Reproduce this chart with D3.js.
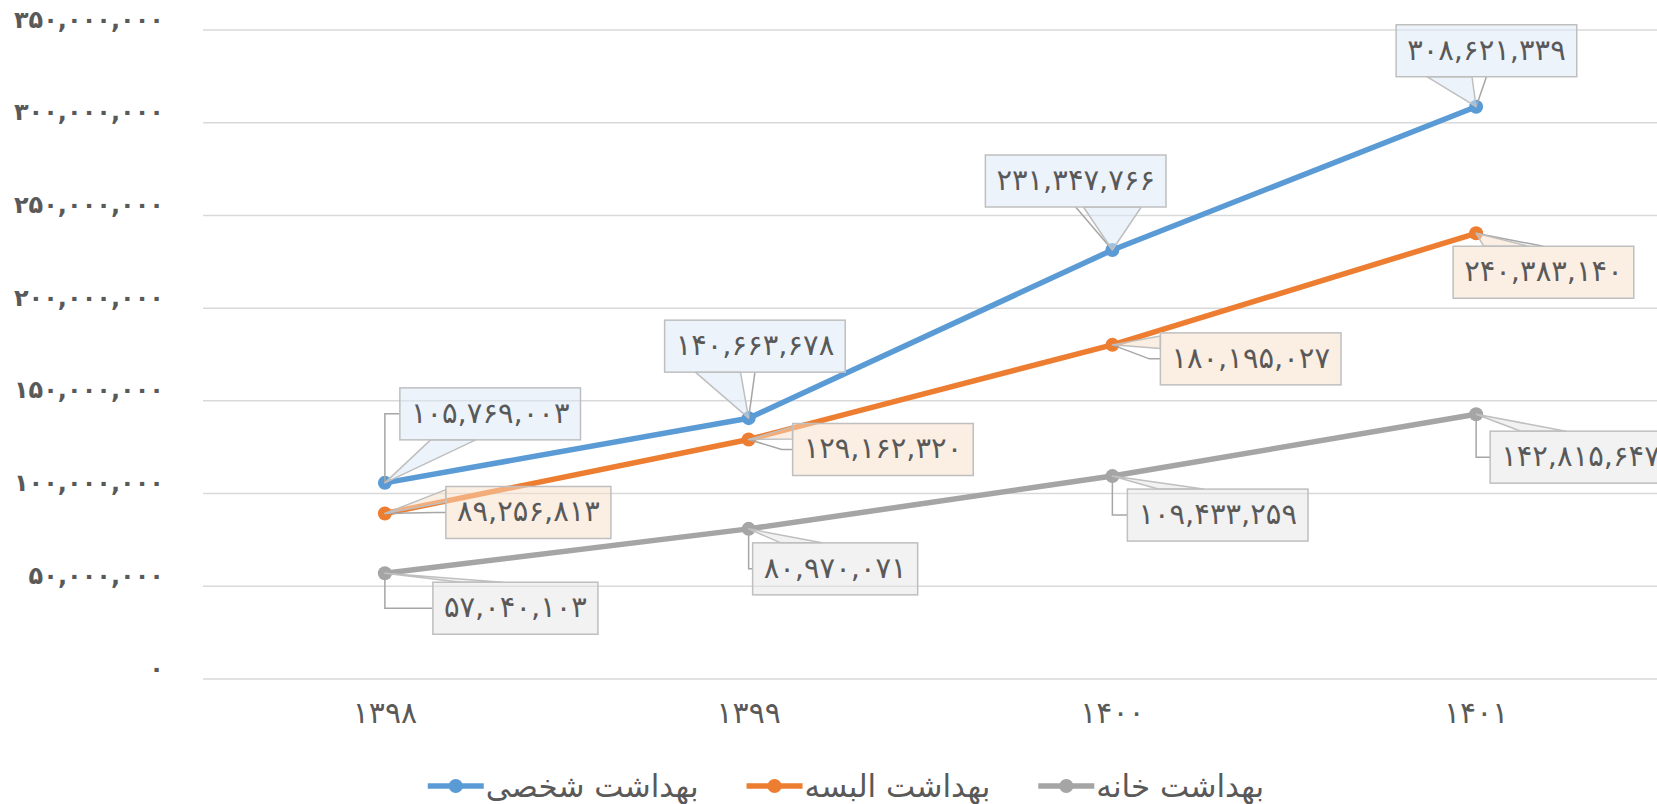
<!DOCTYPE html>
<html>
<head>
<meta charset="utf-8">
<script src="https://cdn.jsdelivr.net/npm/d3@7"></script>
<style>
  html, body { margin: 0; padding: 0; background: #fff; overflow: hidden; }
  svg { display: block; font-family: "DejaVu Sans", sans-serif; }
</style>
</head>
<body>
<div id="chart"></div>
<script>
// categories (years) and the three series
var years = ['۱۳۹۸', '۱۳۹۹', '۱۴۰۰', '۱۴۰۱'];
var seriesNames = ['بهداشت شخصی', 'بهداشت البسه', 'بهداشت خانه'];
var personal = [105769003, 140663678, 231347766, 308621339];
var clothing = [89256813, 129162320, 180195027, 240383140];
var house = [57040103, 80970071, 109433259, 142815647];
var yTicks = [0, 50000000, 100000000, 150000000, 200000000, 250000000, 300000000, 350000000];

// where each callout box sits relative to its point (left, top)
var labelOffsets = [
    [[15, -95], [-84, -98], [-127, -95], [-80, -82]],
    [[61, -27], [44, -16], [48, -12], [-23, 13]],
    [[48, 9], [4, 14], [15, 13], [14, 17]]
];

var colors = ['#5B9BD5', '#ED7D31', '#A5A5A5'];
var boxFill = ['#DCE8F6', '#F7DDC6', '#E6E6E6'];

var width = 1657, height = 804;
var values = [personal, clothing, house];

function fa(s) {
    return s.replace(/\d/g, function (d) { return '۰۱۲۳۴۵۶۷۸۹'[+d]; });
}
var fmt = d3.format(',');

var svg = d3.select('#chart').append('svg')
    .attr('width', width)
    .attr('height', height);

var x = d3.scaleBand()
    .domain(years)
    .range([203, 1658]);

var y = d3.scaleLinear()
    .domain([0, 350000000])
    .range([679, 30]);

function cx(i) { return x(years[i]) + x.bandwidth() / 2; }

// grid
svg.append('g').selectAll('line')
    .data(yTicks)
    .enter().append('line')
    .attr('x1', 203).attr('x2', width)
    .attr('y1', function (d) { return y(d); })
    .attr('y2', function (d) { return y(d); })
    .attr('stroke', '#D9D9D9')
    .attr('stroke-width', 1.5);

// y axis
var yaxis = d3.axisLeft(y)
    .tickValues(yTicks)
    .tickSize(0)
    .tickPadding(0)
    .tickFormat(function (d) { return fa(fmt(d)); });

var gy = svg.append('g')
    .attr('transform', 'translate(164,0)')
    .call(yaxis);
gy.select('.domain').remove();
gy.selectAll('text')
    .attr('font-size', 24)
    .attr('font-weight', 'bold')
    .attr('fill', '#595959')
    .attr('dy', '-0.12em')
    .style('font-family', '"DejaVu Sans", sans-serif');

// x axis
var xaxis = d3.axisBottom(x).tickSize(0).tickPadding(0);
var gx = svg.append('g')
    .attr('transform', 'translate(0,702)')
    .call(xaxis);
gx.select('.domain').remove();
gx.selectAll('text')
    .attr('font-size', 30)
    .attr('fill', '#595959')
    .style('font-family', '"DejaVu Sans", sans-serif');

// lines and markers
var line = d3.line()
    .x(function (d, i) { return cx(i); })
    .y(function (d) { return y(d); });

values.forEach(function (vals, s) {
    svg.append('path')
        .datum(vals)
        .attr('d', line)
        .attr('fill', 'none')
        .attr('stroke', colors[s])
        .attr('stroke-width', 5.5)
        .attr('stroke-linejoin', 'round');
});
values.forEach(function (vals, s) {
    svg.append('g').selectAll('circle')
        .data(vals)
        .enter().append('circle')
        .attr('cx', function (d, i) { return cx(i); })
        .attr('cy', function (d) { return y(d); })
        .attr('r', 7)
        .attr('fill', colors[s]);
});

// callouts
var boxH = 52;
values.forEach(function (vals, s) {
    vals.forEach(function (v, i) {
        var px = cx(i), py = y(v);
        var g = svg.append('g');
        var lead = g.append('polyline');
        var tail = g.append('path');
        var rect = g.append('rect');
        var t = g.append('text')
            .text(fa(fmt(v)))
            .attr('font-size', 29)
            .attr('fill', '#595959')
            .attr('text-anchor', 'middle')
            .attr('dominant-baseline', 'central');
        var w = t.node().getComputedTextLength() + 22;
        var bx = px + labelOffsets[s][i][0], by = py + labelOffsets[s][i][1];
        var mx = bx + w / 2, my = by + boxH / 2;
        t.attr('x', mx).attr('y', my - 1);
        rect.attr('x', bx).attr('y', by).attr('width', w).attr('height', boxH)
            .attr('fill', boxFill[s]).attr('fill-opacity', 0.5)
            .attr('stroke', '#BFBFBF').attr('stroke-width', 1.5);

        // tail triangle
        var a, b;
        if (py > by + boxH || py < by) {
            var ey = py > by + boxH ? by + boxH : by;
            var f = (px - bx) / w;
            var f0 = 0.17, f1 = 0.42;
            if (f > 0.6) { f0 = f - 0.16; f1 = f + 0.16; }
            a = [bx + w * f0, ey]; b = [bx + w * f1, ey];
        } else {
            var ex = px < bx ? bx : bx + w;
            a = [ex, by + boxH * 0.06]; b = [ex, by + boxH * 0.3];
        }
        tail.attr('d', 'M' + a + 'L' + px + ',' + py + 'L' + b + 'Z')
            .attr('fill', boxFill[s]).attr('fill-opacity', 0.5)
            .attr('stroke', '#BFBFBF').attr('stroke-width', 1.5)
            .attr('stroke-linejoin', 'round');

        // leader line
        var pts;
        if (px >= bx && px <= bx + w) {
            pts = [[mx, py < by ? by : by + boxH], [px, py]];
        } else if (py >= by && py <= by + boxH) {
            pts = [[px, py], [bx - 11, my], [bx, my]];
        } else {
            pts = [[bx, my], [px, my], [px, py]];
        }
        lead.attr('points', pts.join(' '))
            .attr('fill', 'none')
            .attr('stroke', '#A6A6A6')
            .attr('stroke-width', 1.5);
    });
});

// legend
var legend = svg.append('g');
var lx = 0, gap = 48;
seriesNames.forEach(function (name, s) {
    var item = legend.append('g').attr('transform', 'translate(' + lx + ',0)');
    item.append('line')
        .attr('x1', 0).attr('x2', 56)
        .attr('stroke', colors[s]).attr('stroke-width', 5.5);
    item.append('circle')
        .attr('cx', 28).attr('r', 7).attr('fill', colors[s]);
    var t = item.append('text')
        .attr('x', 58)
        .attr('dominant-baseline', 'central')
        .attr('font-size', 31)
        .attr('fill', '#595959')
        .text(name);
    lx += 58 + t.node().getComputedTextLength() + gap;
});
lx -= gap;
legend.attr('transform', 'translate(' + (846 - lx / 2) + ',786)');
</script>
</body>
</html>
